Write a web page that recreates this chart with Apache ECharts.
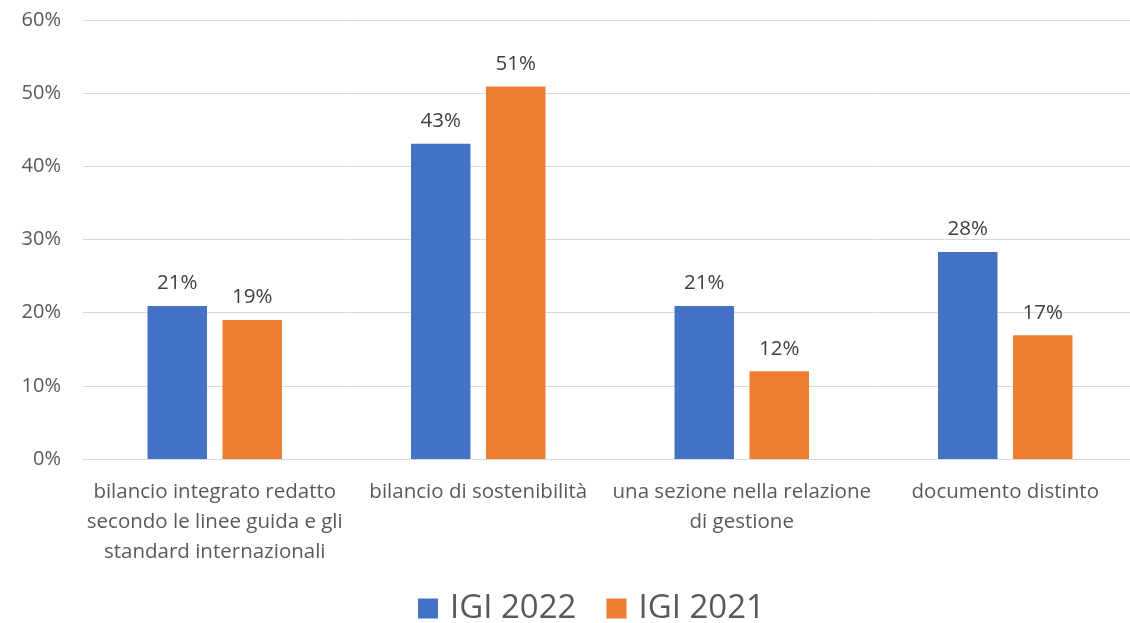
<!DOCTYPE html>
<html>
<head>
<meta charset="utf-8">
<script src="https://cdn.jsdelivr.net/npm/echarts@6/dist/echarts.min.js"></script>
<style>
  html, body { margin: 0; padding: 0; background: #fff; overflow: hidden; }
  #wrap { width: 1130px; height: 623px; overflow: hidden; }
  #chart { width: 1137px; height: 623px; }
</style>
</head>
<body>
<div id="wrap"><div id="chart"></div></div>
<script>
const categories = [
  'bilancio integrato redatto\nsecondo le linee guida e gli\nstandard internazionali',
  'bilancio di sostenibilità',
  'una sezione nella relazione\ndi gestione',
  'documento distinto'
]
const igi2022 = [20.9, 43.1, 20.9, 28.3]
const igi2021 = [19, 50.9, 12, 16.9]

const font = 'Open Sans'
const chart = echarts.init(document.getElementById('chart'))

const barLabel = {
  show: true, position: 'top', distance: 12, fontSize: 20.5, color: '#404040',
  formatter: p => Math.round(p.value) + '%'
}

const option = {
  animation: false,
  textStyle: { fontFamily: font },
  grid: { left: 83, right: 0, top: 20, bottom: 164 },
  legend: {
    top: 587,
    left: 413,
    itemWidth: 20,
    itemHeight: 20,
    itemGap: 30,
    icon: 'rect',
    textStyle: { fontSize: 33, color: '#595959', fontFamily: font, padding: [0, 0, 0, 7] }
  },
  xAxis: {
    type: 'category',
    data: categories,
    axisLine: { lineStyle: { color: '#d9d9d9', width: 1 } },
    axisTick: { show: false },
    axisLabel: { fontSize: 20.5, color: '#595959', lineHeight: 30, margin: 18, interval: 0 }
  },
  yAxis: {
    type: 'value',
    min: 0,
    max: 60,
    interval: 10,
    axisLine: { show: false },
    axisTick: { show: false },
    splitLine: { lineStyle: { color: '#d9d9d9', width: 1 } },
    axisLabel: { formatter: '{value}%', fontSize: 20, color: '#595959', margin: 22 }
  },
  series: [
    {
      name: 'IGI 2022',
      type: 'bar',
      data: igi2022,
      barWidth: 59.5,
      barGap: '26%',
      itemStyle: { color: '#4472c4' },
      label: barLabel
    },
    {
      name: 'IGI 2021',
      type: 'bar',
      data: igi2021,
      barWidth: 59.5,
      itemStyle: { color: '#ed7d31' },
      label: barLabel
    }
  ]
}

chart.setOption(option)
</script>
</body>
</html>
